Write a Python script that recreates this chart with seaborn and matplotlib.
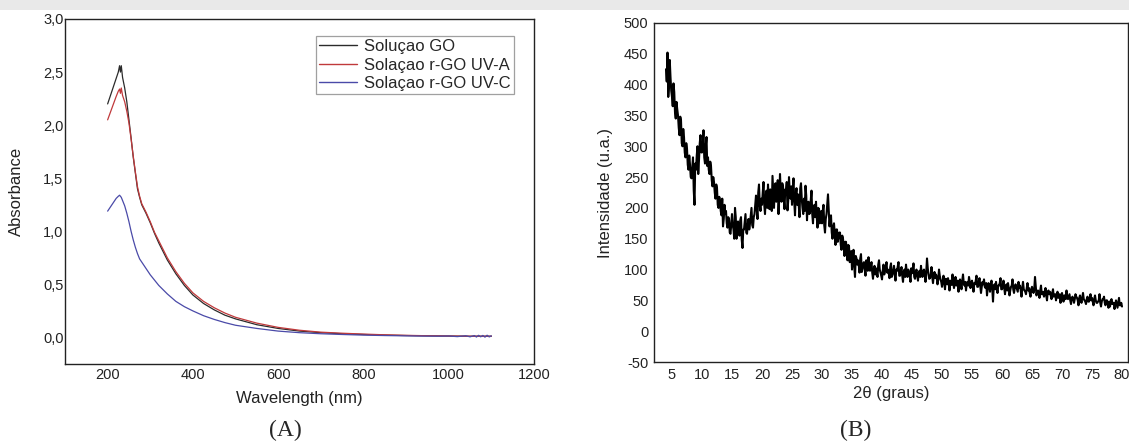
import numpy as np
import pandas as pd
import matplotlib
matplotlib.use("Agg")
import matplotlib.pyplot as plt
from matplotlib.patches import Rectangle
import seaborn as sns

# ---------------- Data: (A) UV-Vis ----------------
wavelength = [200, 210, 220, 225, 228, 230, 232, 235, 240, 245,
              250, 255, 260, 265, 270, 275, 280, 285, 290, 300,
              310, 320, 340, 360, 380, 400, 425, 450, 475, 500,
              550, 600, 650, 700, 750, 800, 850, 900, 940, 980,
              1000, 1020, 1040, 1050, 1060, 1065, 1070, 1075, 1080, 1085,
              1090, 1095, 1100]
abs_go = [2.20, 2.32, 2.44, 2.50, 2.56, 2.50, 2.56, 2.45, 2.35, 2.22,
          2.05, 1.88, 1.70, 1.55, 1.40, 1.32, 1.25, 1.21, 1.17, 1.08,
          0.98, 0.89, 0.73, 0.60, 0.49, 0.40, 0.32, 0.26, 0.21, 0.175,
          0.12, 0.085, 0.06, 0.045, 0.035, 0.028, 0.022, 0.018, 0.016, 0.014,
          0.013, 0.012, 0.012, 0.011, 0.012, 0.010, 0.013, 0.011, 0.012, 0.010,
          0.012, 0.011, 0.012]
abs_uva = [2.05, 2.16, 2.27, 2.32, 2.34, 2.30, 2.35, 2.28, 2.22, 2.13,
           2.02, 1.87, 1.71, 1.56, 1.42, 1.33, 1.26, 1.22, 1.18, 1.09,
           0.99, 0.91, 0.75, 0.62, 0.51, 0.42, 0.34, 0.28, 0.23, 0.19,
           0.135, 0.095, 0.068, 0.05, 0.04, 0.032, 0.025, 0.02, 0.017, 0.015,
           0.014, 0.013, 0.012, 0.012, 0.011, 0.013, 0.011, 0.012, 0.010, 0.013,
           0.011, 0.012, 0.011]
abs_uvc = [1.19, 1.25, 1.31, 1.33, 1.34, 1.33, 1.32, 1.29, 1.24, 1.17,
           1.09, 1.00, 0.92, 0.85, 0.79, 0.74, 0.71, 0.68, 0.65, 0.59,
           0.54, 0.49, 0.41, 0.34, 0.29, 0.25, 0.205, 0.17, 0.14, 0.115,
           0.085, 0.06, 0.045, 0.035, 0.028, 0.022, 0.018, 0.015, 0.013, 0.012,
           0.014, 0.008, 0.016, 0.006, 0.018, 0.004, 0.020, 0.006, 0.019, 0.003,
           0.021, 0.005, 0.015]
series_names = ["Soluçao GO", "Solaçao r-GO UV-A", "Solaçao r-GO UV-C"]
series_colors = ["#2b2b2b", "#c0393b", "#4a4aa8"]
a_yticks = [0.0, 0.5, 1.0, 1.5, 2.0, 2.5, 3.0]
a_ytick_labels = ["0,0", "0,5", "1,0", "1,5", "2,0", "2,5", "3,0"]
a_xticks = [200, 400, 600, 800, 1000, 1200]

# ---------------- Data: (B) XRD ----------------
# readings at 2θ = 4.00, 4.25, 4.50, ...
tt_start, tt_step = 4.0, 0.25
intensity = [
    425, 452, 398, 412,   # 4
    380, 402, 355, 372,   # 5
    350, 318, 342, 300,   # 6
    315, 282, 296, 262,   # 7
    270, 248, 282, 205,   # 8
    262, 300, 278, 318,   # 9
    290, 326, 272, 315,   # 10
    282, 255, 268, 235,   # 11
    242, 215, 232, 200,   # 12
    212, 188, 170, 205,   # 13
    195, 168, 182, 158,   # 14
    190, 165, 200, 150,   # 15
    178, 155, 185, 135,   # 16
    165, 190, 158, 182,   # 17
    175, 200, 168, 190,   # 18
    220, 182, 238, 195,   # 19
    205, 242, 190, 228,   # 20
    238, 198, 215, 252,   # 21
    200, 240, 222, 190,   # 22
    255, 210, 235, 198,   # 23
    228, 196, 250, 215,   # 24
    205, 248, 188, 232,   # 25
    222, 185, 240, 200,   # 26
    215, 236, 180, 210,   # 27
    192, 228, 175, 205,   # 28
    210, 168, 198, 182,   # 29
    175, 205, 160, 190,   # 30
    222, 170, 188, 150,   # 31
    175, 140, 165, 152,   # 32
    160, 132, 150, 122,   # 33
    145, 115, 138, 120,   # 34
    100, 132, 88, 118,    # 35
    115, 95, 125, 102,    # 36
    112, 90, 108, 120,    # 37
    98, 112, 85, 106,     # 38
    102, 88, 115, 95,     # 39
    84, 108, 98, 112,     # 40
    100, 86, 110, 92,     # 41
    106, 82, 98, 112,     # 42
    90, 104, 80, 100,     # 43
    108, 88, 96, 80,      # 44
    94, 110, 85, 100,     # 45
    82, 98, 106, 88,      # 46
    100, 80, 118, 92,     # 47
    86, 104, 78, 96,      # 48
    92, 76, 100, 84,      # 49
    72, 90, 68, 84,       # 50
    86, 66, 80, 92,       # 51
    70, 88, 76, 64,       # 52
    84, 68, 92, 74,       # 53
    66, 80, 88, 70,       # 54
    82, 64, 76, 90,       # 55
    72, 86, 62, 80,       # 56
    84, 70, 58, 78,       # 57
    64, 82, 48, 76,       # 58
    80, 62, 74, 86,       # 59
    68, 82, 60, 76,       # 60
    78, 58, 72, 84,       # 61
    62, 76, 68, 80,       # 62
    74, 56, 80, 66,       # 63
    60, 78, 70, 56,       # 64
    72, 62, 88, 58,       # 65
    66, 54, 74, 60,       # 66
    56, 70, 50, 66,       # 67
    64, 52, 68, 58,       # 68
    50, 64, 56, 46,       # 69
    62, 48, 58, 66,       # 70
    52, 60, 44, 56,       # 71
    46, 60, 54, 42,       # 72
    58, 46, 62, 50,       # 73
    44, 56, 48, 60,       # 74
    54, 42, 58, 46,       # 75
    48, 60, 40, 52,       # 76
    56, 42, 50, 38,       # 77
    40, 52, 46, 36,       # 78
    50, 38, 54, 42,       # 79
    40,                   # 80
]
# readings in between, at 2θ = 4.125, 4.375, 4.625, ...
mid_start = 4.125
intensity_mid = [
    405, 380, 440, 390,   # 4
    365, 388, 345, 360,   # 5
    330, 348, 305, 328,   # 6
    290, 305, 270, 285,   # 7
    250, 265, 228, 272,   # 8
    285, 255, 305, 290,   # 9
    305, 282, 300, 268,   # 10
    262, 275, 245, 250,   # 11
    225, 238, 205, 218,   # 12
    195, 215, 182, 190,   # 13
    175, 185, 160, 175,   # 14
    172, 150, 185, 168,   # 15
    162, 180, 148, 165,   # 16
    178, 160, 172, 165,   # 17
    188, 172, 185, 205,   # 18
    198, 225, 205, 215,   # 19
    225, 205, 218, 200,   # 20
    212, 230, 195, 225,   # 21
    232, 210, 245, 215,   # 22
    225, 240, 215, 230,   # 23
    242, 212, 225, 235,   # 24
    230, 210, 222, 205,   # 25
    205, 232, 215, 190,   # 26
    195, 220, 205, 190,   # 27
    212, 190, 200, 185,   # 28
    185, 200, 175, 195,   # 29
    195, 172, 182, 205,   # 30
    195, 185, 160, 170,   # 31
    158, 165, 145, 160,   # 32
    140, 155, 138, 145,   # 33
    128, 140, 112, 130,   # 34
    118, 105, 122, 108,   # 35
    108, 118, 96, 110,    # 36
    100, 115, 98, 104,    # 37
    106, 95, 100, 92,     # 38
    95, 108, 100, 90,     # 39
    98, 92, 104, 95,      # 40
    94, 104, 88, 98,      # 41
    92, 100, 105, 90,     # 42
    98, 90, 96, 88,       # 43
    96, 100, 90, 102,     # 44
    100, 88, 96, 90,      # 45
    95, 88, 92, 98,       # 46
    92, 96, 102, 85,      # 47
    92, 88, 90, 86,       # 48
    88, 84, 90, 80,       # 49
    82, 78, 85, 76,       # 50
    78, 82, 75, 80,       # 51
    80, 74, 82, 78,       # 52
    76, 82, 78, 80,       # 53
    78, 74, 80, 76,       # 54
    74, 78, 82, 72,       # 55
    80, 74, 72, 76,       # 56
    72, 78, 70, 74,       # 57
    76, 70, 72, 68,       # 58
    70, 74, 78, 68,       # 59
    74, 70, 72, 66,       # 60
    70, 66, 74, 68,       # 61
    70, 72, 64, 70,       # 62
    66, 70, 68, 64,       # 63
    70, 66, 62, 68,       # 64
    66, 68, 72, 64,       # 65
    62, 66, 60, 64,       # 66
    62, 58, 64, 60,       # 67
    58, 62, 56, 60,       # 68
    58, 54, 60, 56,       # 69
    54, 58, 52, 56,       # 70
    56, 50, 54, 52,       # 71
    52, 56, 50, 54,       # 72
    50, 54, 52, 48,       # 73
    52, 48, 54, 50,       # 74
    48, 52, 50, 46,       # 75
    50, 46, 48, 52,       # 76
    46, 50, 44, 48,       # 77
    48, 44, 46, 42,       # 78
    44, 46, 42, 46,       # 79
]
b_xticks = list(range(5, 81, 5))
b_yticks = list(range(-50, 501, 50))

dfB = pd.DataFrame({
    "two_theta": np.concatenate([tt_start + tt_step * np.arange(len(intensity)),
                                 mid_start + tt_step * np.arange(len(intensity_mid))]),
    "intensity": intensity + intensity_mid,
}).sort_values("two_theta")

# ---------------- Figure ----------------
sns.set_style("white")
plt.rcParams["font.family"] = ["Liberation Sans", "DejaVu Sans"]
plt.rcParams["axes.unicode_minus"] = False

fig = plt.figure(figsize=(11.29, 4.46), dpi=100)
fig.patch.set_facecolor("white")
fig.add_artist(Rectangle((0, 1 - 10 / 446), 1, 10 / 446, transform=fig.transFigure,
                         facecolor="#e9e9e9", edgecolor="none"))

axA = fig.add_axes([65 / 1129, 1 - 364 / 446, 469 / 1129, 345 / 446])
axB = fig.add_axes([654 / 1129, 1 - 362 / 446, 474 / 1129, 339 / 446])

dfA = pd.DataFrame({
    "Wavelength": wavelength * 3,
    "Absorbance": abs_go + abs_uva + abs_uvc,
    "Serie": [series_names[0]] * len(wavelength) + [series_names[1]] * len(wavelength)
             + [series_names[2]] * len(wavelength),
})
sns.lineplot(data=dfA, x="Wavelength", y="Absorbance", hue="Serie",
             palette=dict(zip(series_names, series_colors)), estimator=None,
             sort=False, linewidth=0.9, ax=axA)
axA.set_xlim(100, 1200)
axA.set_ylim(-0.25, 3.0)
axA.set_xticks(a_xticks)
axA.set_yticks(a_yticks)
axA.set_yticklabels(a_ytick_labels)
axA.tick_params(axis="both", length=0, labelsize=10.5, colors="#222222")
axA.tick_params(axis="y", pad=1)
axA.tick_params(axis="x", pad=3)
axA.set_xlabel("Wavelength (nm)", fontsize=12, color="#222222", labelpad=6)
axA.set_ylabel("Absorbance", fontsize=12, color="#222222", labelpad=14)
for s in axA.spines.values():
    s.set_color("#222222")
    s.set_linewidth(1.0)
leg = axA.legend(loc="upper right", bbox_to_anchor=(0.957, 0.951), fontsize=12,
                 frameon=True, fancybox=False, handlelength=2.3, labelspacing=0.2,
                 borderpad=0.2, handletextpad=0.4, borderaxespad=0)
leg.get_frame().set_edgecolor("#888888")
leg.get_frame().set_linewidth(0.9)
for line in leg.get_lines():
    line.set_linewidth(1.0)

sns.lineplot(data=dfB, x="two_theta", y="intensity", color="black", linewidth=1.5,
             estimator=None, sort=False, ax=axB)
axB.set_xlim(2, 81)
axB.set_ylim(-50, 500)
axB.set_xticks(b_xticks)
axB.set_yticks(b_yticks)
axB.tick_params(axis="both", length=0, labelsize=10.5, colors="#222222")
axB.tick_params(axis="y", pad=4)
axB.tick_params(axis="x", pad=4)
axB.set_xlabel("2θ (graus)", fontsize=12, color="#222222", labelpad=3)
axB.set_ylabel("Intensidade (u.a.)", fontsize=12, color="#222222", labelpad=8)
for s in axB.spines.values():
    s.set_color("#222222")
    s.set_linewidth(1.0)

fig.text(285 / 1129, 1 - 430 / 446, "(A)", ha="center", va="center", fontsize=17,
         family=["Liberation Serif", "DejaVu Serif"])
fig.text(856 / 1129, 1 - 430 / 446, "(B)", ha="center", va="center", fontsize=17,
         family=["Liberation Serif", "DejaVu Serif"])

fig.savefig("out.png", dpi=100)
